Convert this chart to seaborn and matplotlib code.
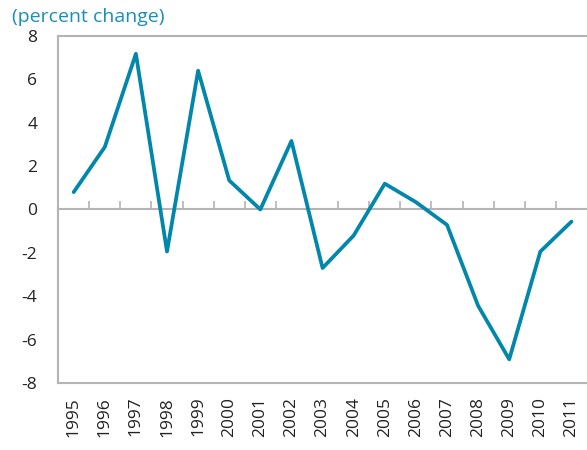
import numpy as np
import pandas as pd
import seaborn as sns
import matplotlib
matplotlib.use("Agg")
import matplotlib.pyplot as plt

# values
years = ["1995", "1996", "1997", "1998", "1999", "2000", "2001", "2002", "2003",
         "2004", "2005", "2006", "2007", "2008", "2009", "2010", "2011"]
pct_change = [0.80, 2.88, 7.18, -1.94, 6.40, 1.34, 0.0, 3.16, -2.70,
              -1.20, 1.19, 0.34, -0.71, -4.44, -6.91, -1.94, -0.56]
y_ticks = [-8, -6, -4, -2, 0, 2, 4, 6, 8]

line_color = "#0087AB"
grey = "#B4B4B4"

sns.set_style("white")
plt.rcParams["font.family"] = ["Open Sans", "DejaVu Sans"]

data = pd.DataFrame({"pos": np.arange(len(years)), "value": pct_change})

fig = plt.figure(figsize=(5.87, 4.5), dpi=100)
ax = fig.add_axes([0.099, 0.149, 0.901, 0.771])

sns.lineplot(data=data, x="pos", y="value", color=line_color, linewidth=2.7, ax=ax)

ax.set_xlim(-0.5, len(years) - 0.5)
ax.set_ylim(-8, 8)
ax.set_yticks(y_ticks)
ax.set_yticklabels([str(t) for t in y_ticks], fontsize=12.5, color="#222222")
ax.set_xticks(data["pos"])
ax.set_xticklabels(years, rotation=90, fontsize=12.5, color="#222222")
ax.tick_params(axis="x", length=0, pad=10)
ax.tick_params(axis="y", direction="in", length=5, width=1.2, color=grey, pad=15)
ax.set_xlabel("")
ax.set_ylabel("")

for side in ["left", "top", "bottom"]:
    ax.spines[side].set_color(grey)
    ax.spines[side].set_linewidth(1.5)
ax.spines["right"].set_visible(False)

# zero line with category-boundary ticks pointing upward
zero_axis = ax.secondary_xaxis(0.5)
zero_axis.set_xticks(data["pos"][:-1] + 0.5)
zero_axis.tick_params(direction="out", length=6, width=1.2, color=grey, labelbottom=False, labeltop=False)
zero_axis.set_xticklabels([])
for sp in zero_axis.spines.values():
    sp.set_color(grey)
    sp.set_linewidth(1.5)

fig.text(0.02, 0.962, "(percent change)", color="#1A8FB5", fontsize=14, ha="left", va="center")

fig.savefig("out.png", dpi=100)
